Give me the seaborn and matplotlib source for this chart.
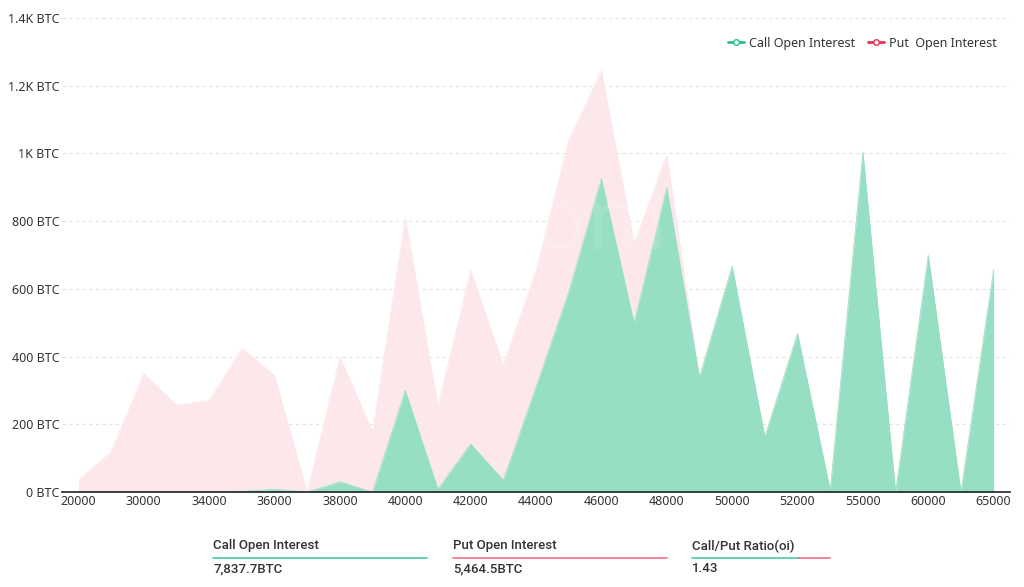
import matplotlib
matplotlib.use("Agg")
import matplotlib.pyplot as plt
from matplotlib.lines import Line2D
import seaborn as sns
import numpy as np
import pandas as pd

# ---- data ----
strikes = ["20000", "25000", "30000", "32000", "34000", "35000", "36000", "37000",
           "38000", "39000", "40000", "41000", "42000", "43000", "44000", "45000",
           "46000", "47000", "48000", "49000", "50000", "51000", "52000", "53000",
           "55000", "58000", "60000", "62000", "65000"]
call_oi = [0, 0, 0, 0, 0, 2, 8, 0, 30, 0, 300, 9, 142, 35, 310, 590,
           926, 499, 900, 339, 667, 163, 468, 5, 1004, 0, 699, 0, 657]
put_oi = [35, 119, 350, 257, 270, 422, 337, 0, 369, 178, 512, 245, 513, 340, 345, 450,
          319, 236, 97, 0, 0, 0, 0, 0, 0, 0, 0, 0, 0]
y_ticks = [0, 200, 400, 600, 800, 1000, 1200, 1400]
y_tick_labels = ["0 BTC", "200 BTC", "400 BTC", "600 BTC", "800 BTC", "1K BTC", "1.2K BTC", "1.4K BTC"]
summary_titles = ["Call Open Interest", "Put Open Interest", "Call/Put Ratio(oi)"]
summary_values = ["7,837.7BTC", "5,464.5BTC", "1.43"]

GREEN_FILL = "#96dfc2"
PINK_FILL = "#fce8eb"
GREEN = "#2dbd85"
RED = "#e5334f"
TXT = "#333333"

sns.set_theme(style="white")
plt.rcParams['font.family'] = ['Noto Sans', 'DejaVu Sans']

df = pd.DataFrame({"strike": strikes, "call": call_oi, "put": put_oi})
df["pos"] = np.arange(len(df))
df["total"] = df["call"] + df["put"]

fig = plt.figure(figsize=(10.24, 5.87), dpi=100)
ax = fig.add_axes([62 / 1024, 1 - 492 / 587, (1010 - 62) / 1024, (492 - 18) / 587])

# stacked areas: put stacked on top of call
ax.fill_between(df["pos"], df["call"], df["total"], color=PINK_FILL, linewidth=0, zorder=2)
ax.fill_between(df["pos"], 0, df["call"], color=GREEN_FILL, linewidth=0, zorder=3)
sns.lineplot(data=df, x="pos", y="total", ax=ax, color=PINK_FILL, linewidth=0.5, zorder=2)
sns.lineplot(data=df, x="pos", y="call", ax=ax, color=GREEN_FILL, linewidth=0.5, zorder=3)

ax.set_xlim(-0.5, len(df) - 0.5)
ax.set_ylim(0, 1400)
ax.set_xlabel("")
ax.set_ylabel("")

ax.set_yticks(y_ticks)
ax.set_yticklabels(y_tick_labels, fontsize=9, color=TXT)
tick_pos = df["pos"][::2]
ax.set_xticks(tick_pos)
ax.set_xticklabels(df["strike"][::2], fontsize=9, color=TXT)
ax.tick_params(axis="both", length=0, pad=2)

for v in y_ticks[1:]:
    ax.axhline(v, color="#e3e3e3", linewidth=0.8, linestyle=(0, (3, 3)), zorder=1)

for s in ["top", "right", "left"]:
    ax.spines[s].set_visible(False)
ax.spines["bottom"].set_color("#222222")
ax.spines["bottom"].set_linewidth(1.2)
ax.spines["bottom"].set_zorder(5)

# very faint watermark
ax.text(0.44, 0.56, "bybt.com", transform=ax.transAxes, fontsize=62, color="white",
        alpha=0.12, ha="center", va="center", fontweight="bold", zorder=4)

# legend
handles = [
    Line2D([0], [0], color=GREEN, marker="o", markersize=4, markerfacecolor="white",
           markeredgecolor=GREEN, linewidth=2),
    Line2D([0], [0], color=RED, marker="o", markersize=4, markerfacecolor="white",
           markeredgecolor=RED, linewidth=2),
]
leg = fig.legend(handles, ["Call Open Interest", "Put  Open Interest"], loc="center right",
                 bbox_to_anchor=(1008 / 1024, 1 - 43 / 587), ncol=2, frameon=False,
                 fontsize=9, handlelength=1.3, handletextpad=0.4, columnspacing=1.0)
for t in leg.get_texts():
    t.set_color(TXT)

# summary block
xs = [213, 453, 692]
for i, (title, val) in enumerate(zip(summary_titles, summary_values)):
    fig.text(xs[i] / 1024, 1 - 546 / 587, title, fontsize=9.5, color=TXT,
             fontfamily="Roboto", fontweight="medium", va="center", ha="left")
    fig.text(xs[i] / 1024, 1 - 569 / 587, val, fontsize=9.5, color=TXT,
             fontfamily="Roboto", fontweight="medium", va="center", ha="left")
yl = 1 - 558 / 587
fig.add_artist(Line2D([213 / 1024, 427 / 1024], [yl, yl], color=GREEN, linewidth=1.2, alpha=0.85))
fig.add_artist(Line2D([453 / 1024, 667 / 1024], [yl, yl], color=RED, linewidth=1.2, alpha=0.7))
fig.add_artist(Line2D([692 / 1024, 799 / 1024], [yl, yl], color=GREEN, linewidth=1.2, alpha=0.85))
fig.add_artist(Line2D([799 / 1024, 830 / 1024], [yl, yl], color=RED, linewidth=1.2, alpha=0.7))

fig.savefig("out.png", dpi=100)
